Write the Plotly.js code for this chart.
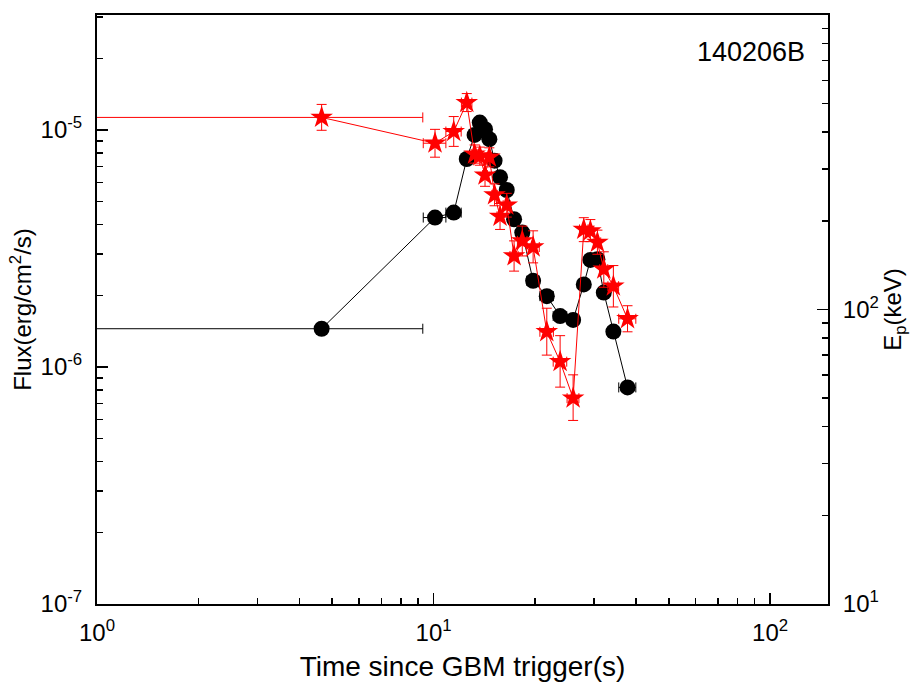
<!DOCTYPE html>
<html>
<head>
<meta charset="utf-8">
<script src="https://cdn.plot.ly/plotly-3.0.1.min.js"></script>
<style>
  body { margin: 0; background: #fff; }
  #chart { width: 917px; height: 695px; }
</style>
</head>
<body>
<div id="chart"></div>
<script>
// time bins (s) and half widths
var time = [4.65, 10.10, 11.48, 12.55, 13.24, 13.72, 14.22, 14.65, 15.18, 15.76, 16.50, 17.35,
            18.35, 19.76, 21.70, 23.77, 25.98, 27.95, 29.24, 30.68, 32.05, 34.22, 37.70];
var timeErr = [4.64, 0.78, 0.6, 0.45, 0.3, 0.25, 0.23, 0.23, 0.28, 0.33, 0.4, 0.48,
               0.6, 0.85, 1.0, 1.1, 1.05, 0.8, 0.68, 0.7, 0.88, 1.25, 2.2];

// flux (erg/cm^2/s), black circles, left axis
var flux = [1.45e-6, 4.27e-6, 4.48e-6, 7.54e-6, 9.53e-6, 1.074e-5, 1.007e-5, 9.14e-6, 7.42e-6,
            6.32e-6, 5.58e-6, 4.20e-6, 3.69e-6, 2.31e-6, 1.99e-6, 1.64e-6, 1.58e-6, 2.23e-6,
            2.83e-6, 2.85e-6, 2.06e-6, 1.41e-6, 8.2e-7];

// peak energy Ep (keV), red stars, right axis
var ep = [449, 367, 402, 504, 337, 332, 286, 329, 245, 207, 226, 152,
          171, 163, 84, 66.5, 50, 187, 185, 169, 137, 120, 93];
var epErrUp = [48, 42, 50, 37, 25, 24, 26, 25, 22, 22, 22, 19,
               21, 22, 17, 15, 10, 18, 17, 17, 20, 21, 10];
var epErrDown = [43, 38, 44, 34, 23, 23, 24, 24, 20, 20, 20, 17,
                 19, 19, 14, 12, 8, 17, 15, 15, 18, 18, 9];

// tick labels
var xTickVals = [1, 10, 100];
var xTickText = ['10<sup>0</sup>', '10<sup>1</sup>', '10<sup>2</sup>'];
var fluxTickVals = [1e-7, 1e-6, 1e-5];
var fluxTickText = ['10<sup>-7</sup>', '10<sup>-6</sup>', '10<sup>-5</sup>'];
var epTickVals = [10, 100, 1000];
var epTickText = ['10<sup>1</sup>', '10<sup>2</sup>', '10<sup>3</sup>'];

function minorTicks(fromExp, toExp) {
    var out = [];
    for (var e = fromExp; e < toExp; e++) {
        for (var m = 2; m <= 9; m++) out.push(m * Math.pow(10, e));
    }
    return out;
}

var FONT = 'Liberation Sans, Arial, sans-serif';
var TICKFONT = { family: FONT, size: 24, color: '#000' };

var traces = [
    {
        x: time, y: flux,
        type: 'scatter', mode: 'lines+markers',
        line: { color: '#000', width: 1 },
        marker: { symbol: 'circle', size: 16, color: '#000' },
        error_x: { type: 'data', array: timeErr, color: '#000', thickness: 1, width: 5 },
        showlegend: false
    },
    {
        x: time, y: ep, yaxis: 'y2',
        type: 'scatter', mode: 'lines+markers',
        line: { color: '#ff0000', width: 1 },
        marker: { symbol: 'star', size: 17, color: '#ff0000' },
        error_x: { type: 'data', array: timeErr, color: '#ff0000', thickness: 1, width: 5 },
        error_y: { type: 'data', array: epErrUp, arrayminus: epErrDown, color: '#ff0000', thickness: 1, width: 5 },
        showlegend: false
    }
];

var layout = {
    width: 917, height: 695,
    margin: { l: 97, r: 89, t: 15, b: 91 },
    paper_bgcolor: '#fff', plot_bgcolor: '#fff',
    font: { family: FONT, size: 21, color: '#000' },
    xaxis: {
        type: 'log', range: [0, 2.172],
        showgrid: false, zeroline: false,
        showline: true, linecolor: '#000', linewidth: 2, mirror: true,
        ticks: 'inside', ticklen: 11, tickwidth: 1.5, tickcolor: '#000',
        tickvals: xTickVals, ticktext: xTickText, tickfont: TICKFONT, ticklabelstandoff: 6,
        minor: { ticks: 'inside', ticklen: 6, tickwidth: 1.5, tickcolor: '#000', tickvals: minorTicks(0, 2), showgrid: false },
        title: { text: 'Time since GBM trigger(s)', font: { size: 28 }, standoff: 12 }
    },
    yaxis: {
        type: 'log', range: [-7, -4.515],
        showgrid: false, zeroline: false,
        showline: true, linecolor: '#000', linewidth: 2,
        ticks: 'inside', ticklen: 11, tickwidth: 1.5, tickcolor: '#000',
        tickvals: fluxTickVals, ticktext: fluxTickText, tickfont: TICKFONT, ticklabelstandoff: 8,
        minor: { ticks: 'inside', ticklen: 6, tickwidth: 1.5, tickcolor: '#000', tickvals: minorTicks(-7, -4), showgrid: false },
        title: { text: 'Flux(erg/cm<sup>2</sup>/s)', font: { size: 24 }, standoff: 2 }
    },
    yaxis2: {
        type: 'log', range: [1, 3], overlaying: 'y', side: 'right',
        showgrid: false, zeroline: false,
        showline: true, linecolor: '#000', linewidth: 2,
        ticks: 'inside', ticklen: 11, tickwidth: 1.5, tickcolor: '#000',
        tickvals: epTickVals, ticktext: epTickText, tickfont: TICKFONT, ticklabelstandoff: 8,
        minor: { ticks: 'inside', ticklen: 6, tickwidth: 1.5, tickcolor: '#000', tickvals: minorTicks(1, 3), showgrid: false },
        title: { text: 'E<sub>p</sub>(keV)', font: { size: 24 }, standoff: 0 }
    },
    annotations: [{
        text: '140206B', xref: 'paper', yref: 'paper',
        x: 0.895, y: 0.937, xanchor: 'center', yanchor: 'middle',
        showarrow: false, font: { size: 27 }
    }]
};

Plotly.newPlot('chart', traces, layout, { displayModeBar: false, staticPlot: true });
</script>
</body>
</html>
